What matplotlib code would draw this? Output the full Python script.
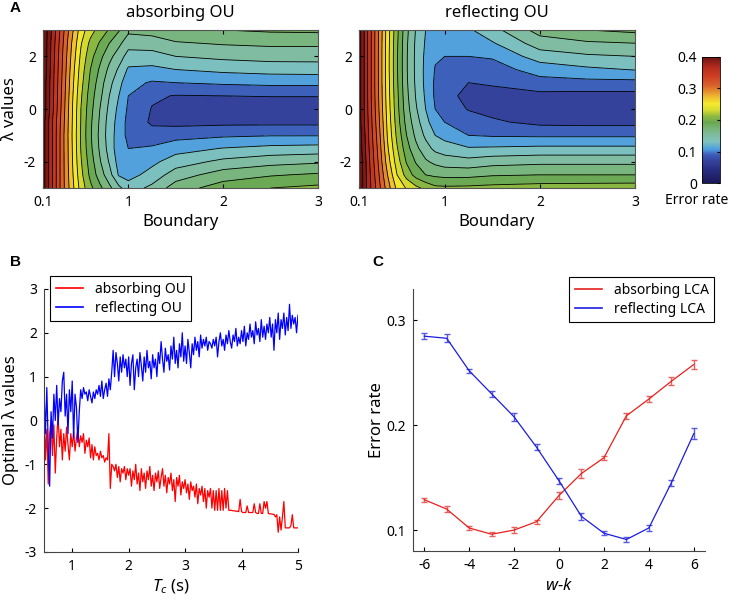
import numpy as np
import matplotlib
matplotlib.use("Agg")
import matplotlib.pyplot as plt
from matplotlib.colors import LinearSegmentedColormap, Normalize
from matplotlib.cm import ScalarMappable
from matplotlib.lines import Line2D

plt.rcParams['font.family'] = ['Noto Sans', 'DejaVu Sans']
plt.rcParams['mathtext.fontset'] = 'custom'
plt.rcParams['mathtext.it'] = 'Noto Sans:italic'
plt.rcParams['mathtext.rm'] = 'Noto Sans'
plt.rcParams['axes.unicode_minus'] = False

# ---- panel A: error rate over (boundary, lambda) ----
boundary = [0.1, 0.2, 0.3, 0.4, 0.5, 0.6, 0.7, 0.8, 0.9, 1.0, 1.25, 1.5, 2.0, 2.5, 3.0]
lambdas = [-3, -2.5, -2, -1.5, -1, -0.5, 0, 0.5, 1, 1.5, 2, 2.5, 3]

err_absorbing = [
    [0.41, 0.36, 0.31, 0.270, 0.232, 0.205, 0.185, 0.165, 0.145, 0.130, 0.145, 0.170, 0.190, 0.200, 0.205],
    [0.41, 0.36, 0.31, 0.267, 0.226, 0.195, 0.170, 0.148, 0.118, 0.112, 0.128, 0.150, 0.170, 0.178, 0.183],
    [0.41, 0.36, 0.31, 0.265, 0.222, 0.190, 0.162, 0.138, 0.112, 0.104, 0.115, 0.130, 0.145, 0.153, 0.157],
    [0.41, 0.36, 0.31, 0.264, 0.219, 0.185, 0.157, 0.132, 0.108, 0.100, 0.103, 0.112, 0.121, 0.126, 0.128],
    [0.41, 0.36, 0.31, 0.263, 0.218, 0.183, 0.155, 0.130, 0.110, 0.095, 0.088, 0.093, 0.097, 0.099, 0.099],
    [0.41, 0.36, 0.312, 0.264, 0.219, 0.184, 0.157, 0.131, 0.112, 0.094, 0.077, 0.074, 0.075, 0.075, 0.075],
    [0.415, 0.365, 0.315, 0.265, 0.220, 0.187, 0.160, 0.135, 0.115, 0.097, 0.079, 0.070, 0.066, 0.065, 0.065],
    [0.415, 0.366, 0.317, 0.267, 0.223, 0.190, 0.165, 0.140, 0.120, 0.100, 0.083, 0.079, 0.080, 0.081, 0.081],
    [0.415, 0.367, 0.319, 0.270, 0.227, 0.195, 0.170, 0.146, 0.127, 0.106, 0.098, 0.100, 0.103, 0.105, 0.105],
    [0.42, 0.368, 0.321, 0.273, 0.231, 0.200, 0.177, 0.155, 0.137, 0.117, 0.115, 0.120, 0.125, 0.128, 0.129],
    [0.42, 0.370, 0.323, 0.277, 0.236, 0.207, 0.186, 0.166, 0.150, 0.132, 0.132, 0.140, 0.145, 0.148, 0.148],
    [0.42, 0.372, 0.326, 0.281, 0.242, 0.215, 0.198, 0.180, 0.165, 0.148, 0.150, 0.158, 0.162, 0.164, 0.164],
    [0.42, 0.375, 0.330, 0.287, 0.250, 0.228, 0.212, 0.198, 0.182, 0.165, 0.168, 0.175, 0.180, 0.183, 0.184],
]

err_reflecting = [
    [0.42, 0.370, 0.330, 0.290, 0.255, 0.238, 0.225, 0.215, 0.205, 0.204, 0.205, 0.207, 0.210, 0.211, 0.212],
    [0.42, 0.368, 0.325, 0.280, 0.240, 0.212, 0.192, 0.180, 0.176, 0.174, 0.174, 0.178, 0.180, 0.180, 0.180],
    [0.42, 0.366, 0.320, 0.270, 0.230, 0.198, 0.178, 0.163, 0.155, 0.150, 0.147, 0.152, 0.155, 0.155, 0.155],
    [0.415, 0.363, 0.316, 0.263, 0.222, 0.188, 0.165, 0.148, 0.135, 0.130, 0.122, 0.123, 0.125, 0.125, 0.125],
    [0.415, 0.360, 0.312, 0.258, 0.215, 0.180, 0.155, 0.136, 0.120, 0.113, 0.100, 0.098, 0.097, 0.097, 0.097],
    [0.41, 0.358, 0.308, 0.255, 0.210, 0.173, 0.148, 0.127, 0.108, 0.100, 0.088, 0.083, 0.075, 0.074, 0.074],
    [0.41, 0.356, 0.305, 0.252, 0.207, 0.168, 0.142, 0.120, 0.100, 0.090, 0.079, 0.074, 0.066, 0.066, 0.066],
    [0.41, 0.355, 0.303, 0.250, 0.205, 0.165, 0.138, 0.117, 0.097, 0.086, 0.075, 0.074, 0.074, 0.073, 0.073],
    [0.41, 0.355, 0.302, 0.249, 0.203, 0.163, 0.136, 0.115, 0.097, 0.087, 0.080, 0.082, 0.093, 0.094, 0.094],
    [0.41, 0.355, 0.302, 0.248, 0.202, 0.162, 0.135, 0.115, 0.099, 0.092, 0.090, 0.092, 0.108, 0.116, 0.121],
    [0.41, 0.355, 0.302, 0.248, 0.202, 0.162, 0.135, 0.116, 0.102, 0.100, 0.100, 0.102, 0.130, 0.137, 0.140],
    [0.41, 0.355, 0.302, 0.249, 0.203, 0.163, 0.136, 0.118, 0.108, 0.106, 0.108, 0.118, 0.150, 0.157, 0.160],
    [0.41, 0.355, 0.303, 0.250, 0.205, 0.165, 0.138, 0.120, 0.115, 0.112, 0.117, 0.133, 0.168, 0.180, 0.185],
]

levels = np.arange(0, 0.441, 0.02)

# ---- panel B: optimal lambda vs Tc ----
tc = np.arange(0.5, 5.0001, 0.025)

opt_reflecting = [
    0.7, -0.3, 0.75, -0.6, -1.5, 0.2, -0.4, 0.6, 0.0, 0.8, -0.1, 0.5, 0.2, 0.9, 1.1, 0.1, 0.6, -0.3, 0.7, 0.2, 0.9,
    -0.4, 0.6, 0.3, -0.5, 0.2, 0.7, 0.5, 0.75, 0.6, 0.65, 0.45, 0.7, 0.55, 0.4, 0.65, 0.5, 0.7, 0.6, 0.8, 0.55,
    0.9, 0.5, 0.7, 0.85, 0.55, 0.95, 0.7, 1.1, 1.6, 1.0, 1.55, 1.3, 0.9, 1.45, 1.1, 1.5, 1.2, 1.4, 1.0, 1.45,
    0.8, 1.3, 1.5, 0.7, 1.2, 1.4, 1.0, 1.55, 1.25, 0.9, 1.45, 1.1, 1.6, 1.2, 1.35, 0.95, 1.5, 1.2, 1.4, 1.0,
    1.55, 1.3, 1.8, 1.4, 1.1, 1.65, 1.35, 1.5, 1.15, 1.7, 1.4, 1.9, 1.3, 1.6, 1.2, 1.75, 1.45, 2.0, 1.35, 1.7,
    1.3, 1.85, 1.55, 1.2, 1.75, 1.5, 1.9, 1.6, 1.8, 1.45, 1.95, 1.65, 1.85, 1.7, 1.9, 1.6, 1.8, 1.75, 1.65, 1.85,
    1.7, 1.9, 1.45, 1.8, 2.0, 1.7, 1.85, 1.6, 1.95, 1.75, 2.05, 1.8, 1.65, 1.95, 1.8, 2.1, 1.7, 1.9, 1.75, 2.05,
    1.8, 2.15, 1.7, 2.0, 1.85, 2.2, 1.9, 2.05, 1.75, 2.25, 1.95, 2.1, 1.8, 2.3, 1.9, 2.15, 1.85, 2.2, 2.0, 2.35,
    1.9, 2.2, 1.6, 2.3, 2.0, 2.45, 1.85, 2.3, 2.1, 2.45, 1.95, 2.35, 2.05, 2.65, 2.1, 2.4, 2.2, 2.35, 2.0, 2.4,
]

opt_absorbing = [
    0.6, -0.9, -0.2, -1.45, -0.3, 0.0, -0.8, -0.1, -1.2, -0.4, 0.1, -0.6, -0.2, -0.9, -0.3, -0.7, -0.15, -0.55, -0.9, -0.3, -0.6,
    -0.25, -0.7, -0.4, -0.2, -0.6, -0.35, -0.5, -0.3, -0.75, -0.45, -0.6, -0.4, -0.85, -0.55, -0.9, -0.6, -0.8, -0.75, -0.9, -0.7,
    -0.85, -0.8, -0.95, -0.85, -0.9, -0.3, -1.55, -1.0, -1.05, -1.15, -1.0, -1.3, -1.05, -1.4, -1.1, -1.2, -1.05, -1.35, -1.1, -1.25,
    -1.1, -1.5, -1.15, -1.35, -1.0, -1.45, -1.2, -1.6, -1.1, -1.4, -1.2, -1.55, -1.15, -1.35, -1.05, -1.5, -1.25, -1.6, -1.2, -1.4,
    -1.15, -1.55, -1.3, -1.1, -1.5, -1.25, -1.65, -1.3, -1.45, -1.2, -1.6, -1.35, -1.85, -1.3, -1.5, -1.25, -1.7, -1.4, -1.55, -1.35,
    -1.65, -1.45, -1.8, -1.4, -1.6, -1.5, -1.75, -1.45, -1.9, -1.55, -1.7, -1.5, -1.85, -1.55, -2.0, -1.6, -1.75, -1.55, -2.0, -1.6,
    -2.05, -1.6, -2.05, -1.55, -2.05, -1.6, -2.05, -1.55, -2.0, -1.6, -2.05, -2.05, -2.05, -2.06, -2.06, -2.07, -2.07, -2.08, -1.8, -2.08,
    -2.1, -2.1, -2.1, -1.95, -2.1, -2.1, -2.1, -2.1, -1.9, -2.1, -2.12, -2.12, -1.9, -2.12, -2.12, -1.85, -2.0, -1.85, -2.12, -2.13,
    -2.13, -2.14, -2.14, -2.2, -2.15, -2.55, -2.2, -2.5, -2.2, -1.85, -2.45, -2.45, -2.45, -2.45, -2.4, -2.15, -2.45, -2.45, -2.45, -2.45,
]

# ---- panel C: error rate vs w-k ----
wk = [-6, -5, -4, -3, -2, -1, 0, 1, 2, 3, 4, 5, 6]
err_abs_lca = [0.129, 0.120, 0.102, 0.096, 0.100, 0.108, 0.133, 0.154, 0.169, 0.209, 0.225, 0.242, 0.258]
sem_abs_lca = [0.002, 0.003, 0.002, 0.002, 0.003, 0.002, 0.003, 0.004, 0.002, 0.003, 0.003, 0.004, 0.004]
err_ref_lca = [0.285, 0.283, 0.252, 0.230, 0.208, 0.179, 0.147, 0.113, 0.097, 0.091, 0.102, 0.145, 0.192]
sem_ref_lca = [0.003, 0.004, 0.002, 0.003, 0.004, 0.003, 0.003, 0.003, 0.002, 0.002, 0.003, 0.003, 0.005]

# muted jet-like colormap as in the figure
cmap = LinearSegmentedColormap.from_list('mutedjet', [
    (0.00, '#1c1858'), (0.10, '#262c80'), (0.17, '#34419a'), (0.22, '#3c5cb8'),
    (0.27, '#4e9ee0'), (0.33, '#7fc2bc'), (0.38, '#80bca0'), (0.43, '#78b479'),
    (0.48, '#6aa84f'), (0.53, '#8cb840'), (0.58, '#d8dc30'), (0.63, '#f4e82c'),
    (0.68, '#eec030'), (0.73, '#e48a2c'), (0.78, '#d8602a'), (0.85, '#cc3e22'),
    (0.92, '#b42a1e'), (1.00, '#6c1410')])
norm = Normalize(0, 0.4)

fig = plt.figure(figsize=(7.37, 6.03), dpi=100)

ax1 = fig.add_axes([0.0583, 0.6882, 0.3731, 0.2620])
ax2 = fig.add_axes([0.4871, 0.6882, 0.3745, 0.2620])
for ax, z, title in [(ax1, err_absorbing, 'absorbing OU'), (ax2, err_reflecting, 'reflecting OU')]:
    ax.contourf(boundary, lambdas, z, levels=levels, cmap=cmap, norm=norm)
    ax.contour(boundary, lambdas, z, levels=levels, colors='k', linewidths=0.6)
    ax.set_xlim(0.1, 3)
    ax.set_ylim(-3, 3)
    ax.set_xticks([0.1, 1, 2, 3])
    ax.set_xticklabels(['0.1', '1', '2', '3'])
    ax.set_yticks([-2, 0, 2])
    ax.tick_params(direction='in', top=True, right=True, labelsize=10, length=3, pad=5)
    for s in ax.spines.values():
        s.set_color('#555555')
    ax.set_xlabel('Boundary', fontsize=12)
    ax.xaxis.set_label_coords(0.5, -0.165)
    ax.text(0.5, 1.11, title, transform=ax.transAxes, ha='center', va='center', fontsize=12)
ax1.set_ylabel('λ values', fontsize=12)
ax1.yaxis.set_label_coords(-0.09, 0.5)

cax = fig.add_axes([0.9525, 0.6965, 0.0244, 0.2090])
cb = fig.colorbar(ScalarMappable(norm=norm, cmap=cmap), cax=cax, ticks=[0, 0.1, 0.2, 0.3, 0.4])
cb.ax.yaxis.set_ticks_position('right')
cb.ax.tick_params(direction='in', labelsize=10, length=2, labelleft=True, labelright=False)
cb.ax.set_yticklabels(['0', '0.1', '0.2', '0.3', '0.4'])
cb.outline.set_linewidth(0.6)
fig.text(697 / 737, 1 - 201 / 603, 'Error rate', ha='center', va='center', fontsize=10)

# panel B
axb = fig.add_axes([0.0597, 0.0846, 0.3446, 0.4362])
axb.plot(tc, opt_absorbing, color='#ff0000', lw=0.9)
axb.plot(tc, opt_reflecting, color='#0000ff', lw=0.9)
axb.set_xlim(0.5, 5)
axb.set_ylim(-3, 3)
axb.set_xticks([1, 2, 3, 4, 5])
axb.set_yticks([-3, -2, -1, 0, 1, 2, 3])
axb.set_xlabel('$T_c$ (s)', fontsize=12)
axb.xaxis.set_label_coords(0.5, -0.099)
axb.set_ylabel('Optimal λ values', fontsize=12)
axb.yaxis.set_label_coords(-0.10, 0.5)
handles_b = [Line2D([], [], color='#ff0000', lw=1.2), Line2D([], [], color='#0000ff', lw=1.2)]
leg = axb.legend(handles_b, ['absorbing OU', 'reflecting OU'], loc='upper left',
                 bbox_to_anchor=(0.024, 1.049), fontsize=10, fancybox=False, edgecolor='k',
                 borderaxespad=0, handlelength=2.0, framealpha=1, labelspacing=0.3)
leg.get_frame().set_linewidth(0.8)

# panel C
axc = fig.add_axes([0.5604, 0.0862, 0.3962, 0.4345])
axc.errorbar(wk, err_abs_lca, yerr=sem_abs_lca, color='#e8201c', ecolor='#e86060',
             lw=0.9, elinewidth=1.0, capsize=2.5)
axc.errorbar(wk, err_ref_lca, yerr=sem_ref_lca, color='#1c1ce0', ecolor='#5858e0',
             lw=0.9, elinewidth=1.0, capsize=2.5)
axc.set_xlim(-6.5, 6.5)
axc.set_ylim(0.08, 0.33)
axc.set_xticks([-6, -4, -2, 0, 2, 4, 6])
axc.set_yticks([0.1, 0.2, 0.3])
axc.set_xlabel('$w$-$k$', fontsize=12)
axc.xaxis.set_label_coords(0.5, -0.103)
axc.set_ylabel('Error rate', fontsize=12)
axc.yaxis.set_label_coords(-0.096, 0.5)
handles_c = [Line2D([], [], color='#e8201c', lw=1.2), Line2D([], [], color='#1c1ce0', lw=1.2)]
leg = axc.legend(handles_c, ['absorbing LCA', 'reflecting LCA'], loc='upper right',
                 bbox_to_anchor=(1.031, 1.046), fontsize=10, fancybox=False, edgecolor='k',
                 borderaxespad=0, handlelength=2.0, framealpha=1, labelspacing=0.3)
leg.get_frame().set_linewidth(0.8)

for ax in (axb, axc):
    ax.spines['top'].set_visible(False)
    ax.spines['right'].set_visible(False)
    for s in ('left', 'bottom'):
        ax.spines[s].set_color('#444444')
    ax.tick_params(direction='in', labelsize=10, length=3, pad=5)

for lx, ly, letter in [(10, 8, 'A'), (10, 262, 'B'), (372, 262, 'C')]:
    fig.text(lx / 737, 1 - ly / 603, letter, fontsize=11, fontweight='bold',
             family=['Liberation Sans', 'DejaVu Sans'], ha='left', va='center')

fig.savefig('out.png', dpi=100)
